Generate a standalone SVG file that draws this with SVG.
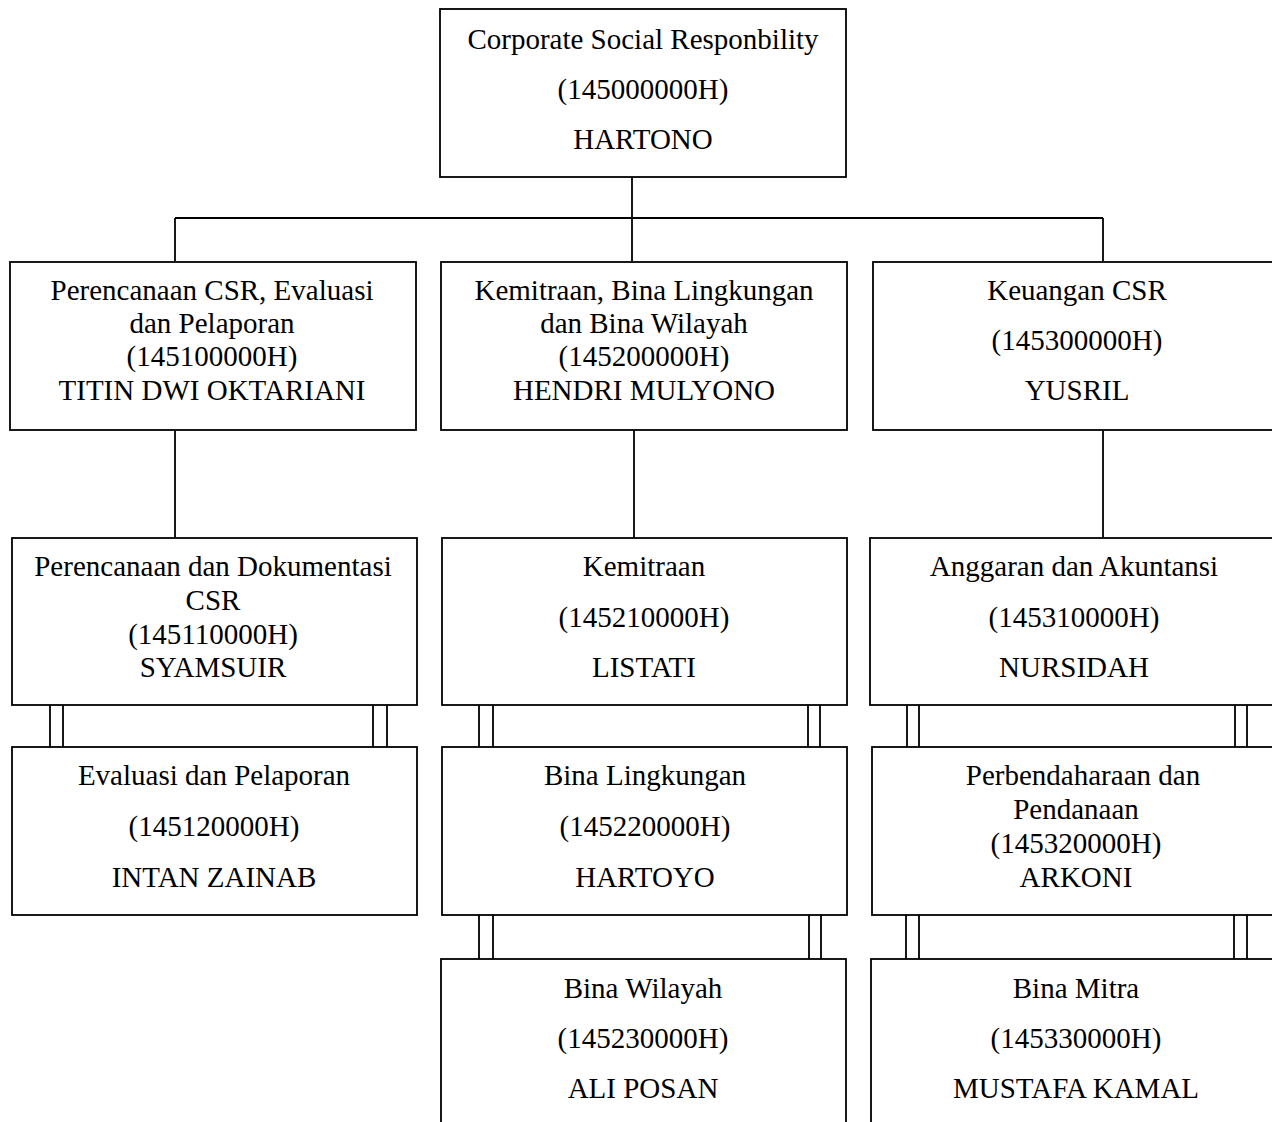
<svg xmlns="http://www.w3.org/2000/svg" width="1272" height="1122" viewBox="0 0 1272 1122">
<style>
.box{fill:#fff;stroke:#000;stroke-width:1.8}
.ln{stroke:#000;stroke-width:1.8;fill:none}
text{font-family:"Liberation Serif","Times New Roman",serif;font-size:29px;fill:#000;text-anchor:middle}
</style>
<rect x="0" y="0" width="1272" height="1122" fill="#fff"/>
<g id="connectors">
<line class="ln" x1="632" y1="177" x2="632" y2="261"/>
<line class="ln" x1="175" y1="218" x2="1103" y2="218"/>
<line class="ln" x1="175" y1="218" x2="175" y2="261"/>
<line class="ln" x1="1103" y1="218" x2="1103" y2="261"/>
<line class="ln" x1="175" y1="430" x2="175" y2="538"/>
<line class="ln" x1="634" y1="430" x2="634" y2="538"/>
<line class="ln" x1="1103" y1="430" x2="1103" y2="538"/>
<path class="ln" d="M50 705V747M63 705V747M373 705V747M387 705V747"/>
<path class="ln" d="M479 705V747M493 705V747M808 705V747M820 705V747"/>
<path class="ln" d="M907 705V747M919 705V747M1235 705V747M1247 705V747"/>
<path class="ln" d="M479 915V959M493 915V959M809 915V959M821 915V959"/>
<path class="ln" d="M906 915V959M919 915V959M1234 915V959M1247 915V959"/>
</g>
<g id="n0"><rect class="box" x="440" y="9" width="406" height="168"/>
<text x="643" y="49">Corporate Social Responbility</text><text x="643" y="99">(145000000H)</text><text x="643" y="149">HARTONO</text></g>
<g id="n1"><rect class="box" x="10" y="262" width="406" height="168"/>
<text x="212" y="300">Perencanaan CSR, Evaluasi</text><text x="212" y="333">dan Pelaporan</text><text x="212" y="366">(145100000H)</text><text x="212" y="400">TITIN DWI OKTARIANI</text></g>
<g id="n2"><rect class="box" x="441" y="262" width="406" height="168"/>
<text x="644" y="300">Kemitraan, Bina Lingkungan</text><text x="644" y="333">dan Bina Wilayah</text><text x="644" y="366">(145200000H)</text><text x="644" y="400">HENDRI MULYONO</text></g>
<g id="n3"><rect class="box" x="873" y="262" width="410" height="168"/>
<text x="1077" y="300">Keuangan CSR</text><text x="1077" y="350">(145300000H)</text><text x="1077" y="400">YUSRIL</text></g>
<g id="n11"><rect class="box" x="12" y="538" width="405" height="167"/>
<text x="213" y="576">Perencanaan dan Dokumentasi</text><text x="213" y="610">CSR</text><text x="213" y="644">(145110000H)</text><text x="213" y="677">SYAMSUIR</text></g>
<g id="n21"><rect class="box" x="442" y="538" width="405" height="167"/>
<text x="644" y="576">Kemitraan</text><text x="644" y="627">(145210000H)</text><text x="644" y="677">LISTATI</text></g>
<g id="n31"><rect class="box" x="870" y="538" width="412" height="167"/>
<text x="1074" y="576">Anggaran dan Akuntansi</text><text x="1074" y="627">(145310000H)</text><text x="1074" y="677">NURSIDAH</text></g>
<g id="n12"><rect class="box" x="12" y="747" width="405" height="168"/>
<text x="214" y="785">Evaluasi dan Pelaporan</text><text x="214" y="836">(145120000H)</text><text x="214" y="887">INTAN ZAINAB</text></g>
<g id="n22"><rect class="box" x="442" y="747" width="405" height="168"/>
<text x="645" y="785">Bina Lingkungan</text><text x="645" y="836">(145220000H)</text><text x="645" y="887">HARTOYO</text></g>
<g id="n32"><rect class="box" x="872" y="747" width="410" height="168"/>
<text x="1083" y="785">Perbendaharaan dan</text><text x="1076" y="819">Pendanaan</text><text x="1076" y="853">(145320000H)</text><text x="1076" y="887">ARKONI</text></g>
<g id="n23"><rect class="box" x="441" y="959" width="405" height="180"/>
<text x="643" y="998">Bina Wilayah</text><text x="643" y="1048">(145230000H)</text><text x="643" y="1098">ALI POSAN</text></g>
<g id="n33"><rect class="box" x="871" y="959" width="412" height="180"/>
<text x="1076" y="998">Bina Mitra</text><text x="1076" y="1048">(145330000H)</text><text x="1076" y="1098">MUSTAFA KAMAL</text></g>
</svg>
